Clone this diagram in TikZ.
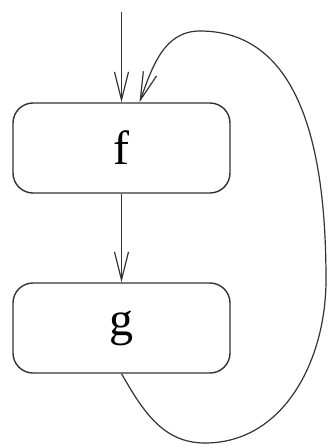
\documentclass[tikz,border=0pt]{standalone}
\usepackage{fontspec}
\setmainfont{Liberation Serif}
\usetikzlibrary{arrows.meta}
\begin{document}
\begin{tikzpicture}[x=1pt,y=-1pt,
  fbox/.style={draw=black!80,line width=1.4pt,rounded corners=20pt,minimum width=217pt,minimum height=90pt,inner sep=0pt,font=\fontsize{48}{50}\selectfont},
  arr/.style={draw=black!80,line width=1.2pt,-{Straight Barb[length=28pt,width=14pt,line width=1.2pt]}}]
\useasboundingbox (0,0) rectangle (330,448);
\node[fbox] (f) at (121.5,148) {f};
\node[fbox] (g) at (121.5,328) {g};
\coordinate (in) at (121.5,12);
\coordinate (lb) at (205,443);
\coordinate (lr) at (326,280);
\coordinate (lt) at (200,31);
\coordinate (le) at ([xshift=18pt]f.north);
\draw[arr] (in) -- (f.north);
\draw[arr] (f.south) -- (g.north);
\draw[arr] (g.south) to[out=-60,in=180] (lb) to[out=0,in=-90] (lr) to[out=90,in=0] (lt) to[out=180,in=70] (le);
\end{tikzpicture}
\end{document}
